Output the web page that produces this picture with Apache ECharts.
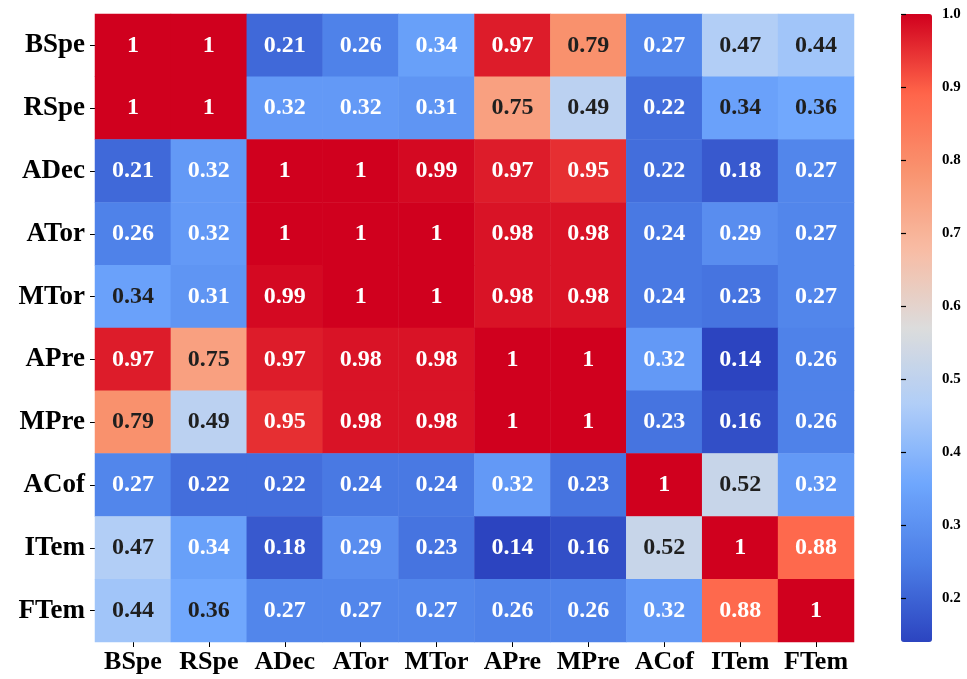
<!DOCTYPE html>
<html>
<head>
<meta charset="utf-8">
<title>Feature correlation heatmap</title>
<script src="https://cdn.jsdelivr.net/npm/echarts@6/dist/echarts.min.js"></script>
<style>
  html, body { margin: 0; padding: 0; background: #ffffff; }
  #chart { width: 967px; height: 679px; }
</style>
</head>
<body>
<div id="chart"></div>
<script>
// Variable names, shared by both axes (rows top to bottom, columns left to right)
const categories = ['BSpe', 'RSpe', 'ADec', 'ATor', 'MTor', 'APre', 'MPre', 'ACof', 'ITem', 'FTem'];

// One array per row of the matrix
const rowBSpe = [1, 1, 0.21, 0.26, 0.338, 0.97, 0.79, 0.27, 0.47, 0.44];
const rowRSpe = [1, 1, 0.32, 0.32, 0.31, 0.75, 0.49, 0.22, 0.343, 0.36];
const rowADec = [0.21, 0.32, 1, 1, 0.99, 0.97, 0.95, 0.22, 0.18, 0.27];
const rowATor = [0.26, 0.32, 1, 1, 1, 0.98, 0.98, 0.24, 0.29, 0.27];
const rowMTor = [0.343, 0.31, 0.99, 1, 1, 0.98, 0.98, 0.24, 0.23, 0.27];
const rowAPre = [0.97, 0.75, 0.97, 0.98, 0.98, 1, 1, 0.32, 0.14, 0.26];
const rowMPre = [0.79, 0.49, 0.95, 0.98, 0.98, 1, 1, 0.23, 0.16, 0.26];
const rowACof = [0.27, 0.22, 0.22, 0.24, 0.24, 0.32, 0.23, 1, 0.52, 0.32];
const rowITem = [0.47, 0.338, 0.18, 0.29, 0.23, 0.14, 0.16, 0.52, 1, 0.88];
const rowFTem = [0.44, 0.36, 0.27, 0.27, 0.27, 0.26, 0.26, 0.32, 0.88, 1];

const matrix = [rowBSpe, rowRSpe, rowADec, rowATor, rowMTor, rowAPre, rowMPre, rowACof, rowITem, rowFTem];

// Colour scale range and colour-bar tick values
const scaleMin = 0.14;
const scaleMax = 1.0;
const colorbarTicks = [0.2, 0.3, 0.4, 0.5, 0.6, 0.7, 0.8, 0.9, 1.0];

// Diverging blue - grey - red palette, evenly spaced over [scaleMin, scaleMax]
const palette = [
  '#2c44c0', '#4b7de6', '#6ea6fd', '#afcdf8', '#dcdcdc',
  '#f8bca4', '#f9936f', '#ff6449', '#d0001e'
];

const FONT = '"Liberation Serif", "Times New Roman", serif';

// Same formatting as a ".2g" annotation: 1.0 -> "1", 0.97 -> "0.97"
function fmt2g(v) {
  return String(Number(v.toPrecision(2)));
}

// Dark text on the pale middle of the scale, white text on saturated cells
function textColor(v) {
  return (v >= 0.34 && v < 0.85) ? '#1f1f1f' : '#ffffff';
}

const heatData = [];
matrix.forEach(function (row, r) {
  row.forEach(function (v, c) {
    heatData.push({
      value: [c, r, v],
      label: { color: textColor(v) }
    });
  });
});

const axisTextStyle = {
  fontFamily: FONT,
  fontWeight: 'bold',
  fontSize: 26,
  color: '#000000'
};

const chart = echarts.init(document.getElementById('chart'), null, { renderer: 'canvas' });

chart.setOption({
  backgroundColor: '#ffffff',
  animation: false,
  grid: [
    { left: 95, top: 14, width: 759, height: 628, containLabel: false },
    { left: 901, top: 14, width: 31, height: 628, containLabel: false }
  ],
  xAxis: [
    {
      type: 'category',
      gridIndex: 0,
      data: categories,
      position: 'bottom',
      axisLine: { show: false },
      axisTick: { show: true, alignWithLabel: true, length: 5, lineStyle: { color: '#000', width: 1 } },
      axisLabel: Object.assign({ margin: 7, interval: 0 }, axisTextStyle),
      splitLine: { show: false },
      splitArea: { show: false }
    },
    {
      type: 'value',
      gridIndex: 1,
      show: false,
      min: 0,
      max: 1
    }
  ],
  yAxis: [
    {
      type: 'category',
      gridIndex: 0,
      data: categories,
      inverse: true,
      axisLine: { show: false },
      axisTick: { show: true, alignWithLabel: true, length: 5, lineStyle: { color: '#000', width: 1 } },
      axisLabel: Object.assign({ margin: 10, interval: 0 }, axisTextStyle, { fontSize: 27 }),
      splitLine: { show: false },
      splitArea: { show: false }
    },
    {
      type: 'value',
      gridIndex: 1,
      position: 'right',
      z: 10,
      min: scaleMin,
      max: scaleMax,
      axisLine: { show: false },
      splitLine: { show: false },
      axisTick: {
        show: true,
        inside: false,
        length: 5,
        customValues: colorbarTicks,
        lineStyle: { color: '#000000', width: 1.2 }
      },
      axisLabel: {
        show: true,
        customValues: colorbarTicks,
        formatter: function (v) { return Number(v).toFixed(1); },
        margin: 10,
        fontFamily: FONT,
        fontWeight: 'bold',
        fontSize: 15,
        color: '#000000'
      }
    }
  ],
  visualMap: {
    type: 'continuous',
    min: scaleMin,
    max: scaleMax,
    dimension: 2,
    seriesIndex: 0,
    orient: 'vertical',
    left: 901,
    top: 14,
    itemWidth: 31,
    itemHeight: 628,
    padding: 0,
    z: 1,
    calculable: false,
    hoverLink: false,
    inRange: { color: palette }
  },
  series: [
    {
      type: 'heatmap',
      xAxisIndex: 0,
      yAxisIndex: 0,
      data: heatData,
      itemStyle: { borderWidth: 0 },
      label: {
        show: true,
        formatter: function (p) { return fmt2g(p.value[2]); },
        fontFamily: FONT,
        fontWeight: 'bold',
        fontSize: 24
      },
      emphasis: { disabled: true }
    }
  ]
});
</script>
</body>
</html>
